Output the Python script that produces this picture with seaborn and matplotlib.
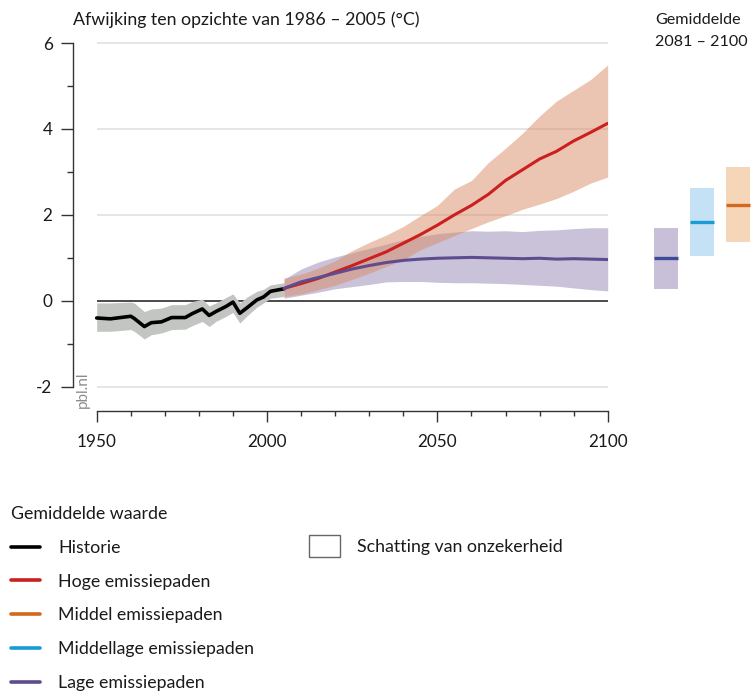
import numpy as np
import pandas as pd
import matplotlib
matplotlib.use("Agg")
import matplotlib.pyplot as plt
from matplotlib.lines import Line2D
from matplotlib.patches import Patch
import seaborn as sns

# ---------------- data ----------------
hist_years = [1950, 1954, 1960, 1961, 1964, 1966, 1969, 1972, 1976, 1978, 1981,
              1983, 1985, 1988, 1990, 1992, 1994, 1997, 1999, 2001, 2005]
hist_mean = [-0.40, -0.42, -0.36, -0.41, -0.60, -0.51, -0.49, -0.39, -0.39, -0.30, -0.19,
             -0.34, -0.25, -0.13, -0.03, -0.29, -0.17, 0.02, 0.09, 0.22, 0.28]
hist_upper = [-0.05, -0.05, -0.03, -0.05, -0.25, -0.19, -0.17, -0.09, -0.09, -0.02, 0.04,
              -0.12, -0.05, 0.08, 0.16, -0.05, 0.08, 0.22, 0.27, 0.37, 0.42]
hist_lower = [-0.71, -0.71, -0.67, -0.71, -0.89, -0.79, -0.75, -0.67, -0.66, -0.58, -0.48,
              -0.60, -0.48, -0.36, -0.27, -0.52, -0.36, -0.15, -0.05, 0.06, 0.10]

proj_years = [2005, 2010, 2015, 2020, 2025, 2030, 2035, 2040, 2045, 2050,
              2055, 2060, 2065, 2070, 2075, 2080, 2085, 2090, 2095, 2100]
high_mean = [0.29, 0.40, 0.52, 0.67, 0.82, 0.98, 1.14, 1.34, 1.54, 1.76,
             2.00, 2.22, 2.48, 2.80, 3.05, 3.30, 3.48, 3.72, 3.92, 4.13]
high_upper = [0.53, 0.62, 0.76, 0.93, 1.17, 1.36, 1.53, 1.73, 1.98, 2.22,
              2.60, 2.80, 3.22, 3.55, 3.90, 4.30, 4.65, 4.90, 5.15, 5.49]
high_lower = [0.10, 0.16, 0.26, 0.36, 0.50, 0.64, 0.80, 0.95, 1.19, 1.35,
              1.52, 1.68, 1.84, 1.98, 2.13, 2.25, 2.38, 2.55, 2.74, 2.88]
low_mean = [0.29, 0.44, 0.54, 0.64, 0.74, 0.82, 0.89, 0.94, 0.97, 0.99,
            1.00, 1.01, 1.00, 0.99, 0.98, 0.99, 0.97, 0.98, 0.97, 0.96]
low_upper = [0.50, 0.74, 0.90, 1.02, 1.12, 1.22, 1.32, 1.42, 1.50, 1.56,
             1.60, 1.63, 1.62, 1.63, 1.61, 1.64, 1.65, 1.68, 1.70, 1.70]
low_lower = [0.06, 0.13, 0.20, 0.28, 0.33, 0.38, 0.44, 0.45, 0.45, 0.43,
             0.42, 0.42, 0.41, 0.40, 0.38, 0.36, 0.34, 0.30, 0.26, 0.23]

# 2081-2100 averages: low, middle-low, middle
avg_labels = ["Lage", "Middellage", "Middel"]
avg_mean = [0.99, 1.84, 2.24]
avg_low = [0.28, 1.05, 1.37]
avg_high = [1.70, 2.62, 3.12]

y_ticks = [-2, 0, 2, 4, 6]
x_ticks = [1950, 2000, 2050, 2100]

legend_labels = ["Historie", "Hoge emissiepaden", "Middel emissiepaden",
                 "Middellage emissiepaden", "Lage emissiepaden"]

# ---------------- styles ----------------
C_HIST = "#000000"
C_HIST_BAND = "#c3c5c3"
C_HIGH = "#cc1f1f"
C_HIGH_BAND = "#d98c64"
C_LOW = "#5e4c8c"
C_LOW_BAND = "#9687b4"
C_MID = "#d2691e"
C_MIDLOW = "#1a9ad6"
BOX_FILL = ["#c8c0d8", "#c5e1f6", "#f5d6b8"]
BOX_LINE = ["#3f4a98", "#1a9ad6", "#d2691e"]
AX_COL = "#333333"
FS = 12.8
FS_RIGHT = 11.6

sns.set_theme(style="white")
plt.rcParams["font.family"] = ["Lato", "DejaVu Sans"]
plt.rcParams["text.color"] = "#1a1a1a"
plt.rcParams["axes.unicode_minus"] = False

W, H = 753, 692
fig = plt.figure(figsize=(W / 100, H / 100), dpi=100)

def fx(px):
    return px / W

def fy(py):
    return 1 - py / H

# main axes: spine at x=72.7 px, data 1950@96.7 .. 2100@607.7; 6@43 px, -2@386.7, x-spine at 410.7
ax = fig.add_axes([fx(72.7), fy(410.7), fx(607.7) - fx(72.7), fy(43) - fy(410.7)])
ppy = (607.7 - 96.7) / 150.0
x0 = 1950 - (96.7 - 72.7) / ppy
ax.set_xlim(x0, 2100)
ax.set_ylim(-2 - (410.7 - 386.7) / 43.0, 6)

# grid lines and zero line
for yv in y_ticks:
    if yv == 0:
        continue
    ax.hlines(yv, 1950, 2100, color="#e3e3e3", lw=1.3, zorder=0, clip_on=False)
ax.hlines(0, 1950, 2100, color="#1a1a1a", lw=1.1, zorder=1)

hist = pd.DataFrame({"year": hist_years, "mean": hist_mean, "lo": hist_lower, "hi": hist_upper})
proj = pd.DataFrame({"year": proj_years, "high": high_mean, "high_lo": high_lower, "high_hi": high_upper,
                     "low": low_mean, "low_lo": low_lower, "low_hi": low_upper})

ax.fill_between(hist["year"], hist["lo"], hist["hi"], color=C_HIST_BAND, lw=0, zorder=2)
ax.fill_between(proj["year"], proj["low_lo"], proj["low_hi"], color=C_LOW_BAND, alpha=0.5, lw=0, zorder=3)
ax.fill_between(proj["year"], proj["high_lo"], proj["high_hi"], color=C_HIGH_BAND, alpha=0.5, lw=0, zorder=3)

sns.lineplot(data=hist, x="year", y="mean", ax=ax, color=C_HIST, lw=2.6, zorder=5)
sns.lineplot(data=proj, x="year", y="high", ax=ax, color=C_HIGH, lw=2.2, zorder=5)
sns.lineplot(data=proj, x="year", y="low", ax=ax, color=C_LOW, lw=2.2, zorder=6)

# axes styling
for s in ["top", "right"]:
    ax.spines[s].set_visible(False)
ax.spines["left"].set_bounds(-2, 6)
ax.spines["bottom"].set_bounds(1950, 2100)
for s in ["left", "bottom"]:
    ax.spines[s].set_color(AX_COL)
    ax.spines[s].set_linewidth(1.0)
ax.set_yticks(y_ticks)
ax.set_yticks([-1, 1, 3, 5], minor=True)
ax.set_xticks(x_ticks)
ax.set_xticks(list(range(1950, 2101, 10)), minor=True)
ax.tick_params(axis="y", which="major", length=8.5, width=1.0, color=AX_COL, pad=6, labelsize=12.3, labelcolor="#1a1a1a", left=True)
ax.tick_params(axis="y", which="minor", length=4.3, width=1.0, color=AX_COL, left=True)
ax.tick_params(axis="x", which="major", length=8.0, width=1.0, color=AX_COL, pad=9, labelsize=12.3, labelcolor="#1a1a1a", bottom=True)
ax.tick_params(axis="x", which="minor", length=3.8, width=1.0, color=AX_COL, bottom=True)
ax.set_xlabel("")
ax.set_ylabel("")
ax.grid(False)
ax.patch.set_alpha(0)

ax.text(x0 + (83 - 72.7) / ppy, -2.5, "pbl.nl", rotation=90, ha="center", va="bottom", fontsize=11, color="#8c8c8c")

# right panel: 2081-2100 averages
ax2 = fig.add_axes([fx(648.1), fy(410.7), fx(107.4), fy(43) - fy(410.7)])
ax2.set_xlim(-0.5, 2.5)
ax2.set_ylim(ax.get_ylim())
pos = np.arange(len(avg_labels))
heights = np.array(avg_high) - np.array(avg_low)
ax2.bar(pos, heights, bottom=avg_low, width=0.67, color=BOX_FILL, lw=0)
for p, m, c in zip(pos, avg_mean, BOX_LINE):
    ax2.hlines(m, p - 0.335, p + 0.335, color=c, lw=2.4)
ax2.axis("off")

# titles
fig.text(fx(73), fy(20), "Afwijking ten opzichte van 1986 \u2013 2005 (\u00b0C)", fontsize=FS, va="center", ha="left")
fig.text(fx(655), fy(20), "Gemiddelde", fontsize=FS_RIGHT, va="center", ha="left")
fig.text(fx(655), fy(42), "2081 \u2013 2100", fontsize=FS_RIGHT, va="center", ha="left")

# legends
line_colors = [C_HIST, C_HIGH, C_MID, C_MIDLOW, C_LOW]
handles = [Line2D([0], [0], color=c, lw=2.6) for c in line_colors]
leg1 = fig.legend(handles, legend_labels, title="Gemiddelde waarde", loc="upper left",
                  bbox_to_anchor=(fx(11), fy(506)), frameon=False, fontsize=FS,
                  title_fontsize=FS, alignment="left", handlelength=1.65, handletextpad=1.0,
                  labelspacing=1.0, borderpad=0, borderaxespad=0)
leg2 = fig.legend([Patch(facecolor="white", edgecolor="#666666", lw=1.0)], ["Schatting van onzekerheid"],
                  loc="upper left", bbox_to_anchor=(fx(309), fy(535)), frameon=False, fontsize=FS,
                  handlelength=1.72, handleheight=1.5, handletextpad=1.0, borderpad=0, borderaxespad=0)

fig.savefig("out.png", dpi=100)
